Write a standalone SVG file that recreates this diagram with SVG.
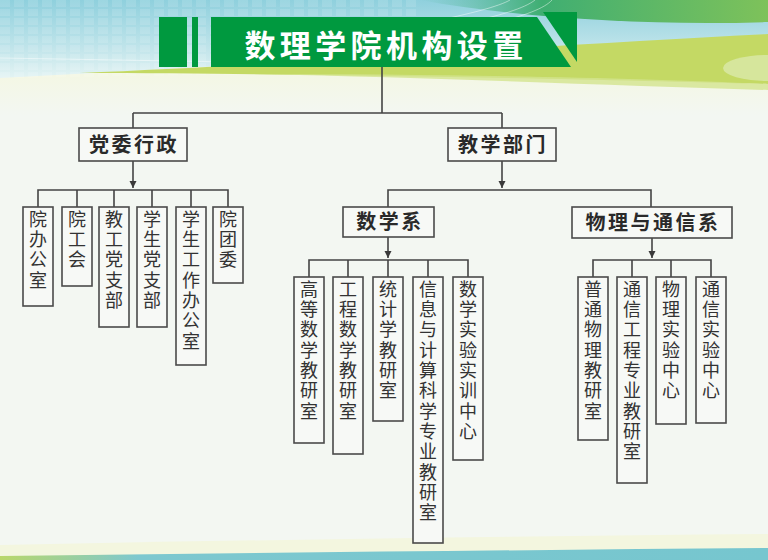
<svg xmlns="http://www.w3.org/2000/svg" width="768" height="560" viewBox="0 0 768 560">
<defs>
<linearGradient id="sky" x1="0" y1="0" x2="0" y2="1">
<stop offset="0" stop-color="#8fd0dd"/>
<stop offset="0.6" stop-color="#bfe4ea"/>
<stop offset="1" stop-color="#e3f3f3"/>
</linearGradient>
<linearGradient id="topgreen" x1="0" y1="0" x2="1" y2="0">
<stop offset="0" stop-color="#58b9a0" stop-opacity="0"/>
<stop offset="0.35" stop-color="#3fae72"/>
<stop offset="1" stop-color="#7ec25a"/>
</linearGradient>
<linearGradient id="cream" x1="0" y1="0" x2="0" y2="1">
<stop offset="0" stop-color="#f4f7df"/>
<stop offset="1" stop-color="#f3f7f2"/>
</linearGradient>
<linearGradient id="teal" x1="0" y1="0" x2="1" y2="0">
<stop offset="0" stop-color="#b9d76a"/>
<stop offset="0.18" stop-color="#7dc8cf"/>
<stop offset="1" stop-color="#76c6cf"/>
</linearGradient>
<pattern id="grid" width="14" height="9" patternUnits="userSpaceOnUse">
<rect x="0" y="0" width="10" height="7" fill="#ffffff" fill-opacity="0.12"/>
</pattern>
<marker id="arr" markerWidth="8" markerHeight="8" refX="4" refY="7" orient="0" markerUnits="userSpaceOnUse">
<path d="M0.5,0 L7.5,0 L4,7 Z" fill="#3a3a3a"/>
</marker>
<style>
.box{fill:#f7f9f6;stroke:#4a4a4a;stroke-width:1.6}
.hd{font-family:"Noto Sans CJK SC","Noto Sans",sans-serif;font-size:20px;font-weight:bold;fill:#2a2a2a;text-anchor:middle;letter-spacing:2.5px}
.vt{font-family:"Noto Sans CJK SC","Noto Sans",sans-serif;font-size:18px;fill:#333333;text-anchor:start;writing-mode:vertical-rl;text-orientation:upright;letter-spacing:2.3px}
.ln{fill:none;stroke:#444444;stroke-width:1.6}
.tg{fill:#00993f}
</style>
</defs>

<g id="background">
<rect x="0" y="0" width="768" height="560" fill="#f3f7f2"/>
<rect x="0" y="60" width="768" height="55" fill="url(#cream)"/>
<path d="M0,0 H768 V40 C560,46 300,62 0,78 Z" fill="url(#sky)"/>
<path d="M0,0 H420 V72 C280,74 140,76 0,78 Z" fill="url(#grid)"/>
<path d="M420,0 H768 V22 C650,26 520,18 420,0 Z" fill="url(#topgreen)"/>
<path d="M80,73 C300,64 560,44 768,34 L768,84 C600,80 380,74 80,73 Z" fill="#c4d964"/>
<path d="M250,74 C450,74 640,78 768,84 L768,90 C620,86 450,78 250,74 Z" fill="#d3e38f" fill-opacity="0.8"/>
<ellipse cx="768" cy="68" rx="45" ry="13" fill="#d6e69c"/>
<g fill="none" stroke="#ffffff" stroke-opacity="0.45" stroke-width="1">
<path d="M430,22 C470,14 500,6 510,0"/>
<path d="M460,24 C500,16 525,8 535,0"/>
<path d="M490,24 C525,16 545,8 552,0"/>
<path d="M0,58 C120,60 220,62 300,63"/>
</g>
<path d="M0,545 C250,540 520,536 768,534 L768,552 L0,556 Z" fill="#f3f6df"/>
<path d="M0,556 C260,553 520,550 768,548 V560 H0 Z" fill="url(#teal)"/>
</g>

<g id="title">
<rect class="tg" x="159" y="17" width="28" height="50"/>
<rect class="tg" x="192" y="17" width="6" height="50"/>
<polygon class="tg" points="211,17 537,17 571,67 211,67"/>
<polygon class="tg" points="543,12 577,12 577,62"/>
<text x="386" y="57" font-family="'Noto Sans CJK SC','Noto Sans',sans-serif" font-size="31" font-weight="bold" fill="#ffffff" text-anchor="middle" letter-spacing="4.4">数理学院机构设置</text>
</g>

<g id="connectors">
<path class="ln" d="M382,67 V113 M133,113 H502 M133,113 V128 M502,113 V128"/>
<path class="ln" d="M133,161 V188" marker-end="url(#arr)"/>
<path class="ln" d="M38,207 V190 H228 V207 M77,190 V207 M114,190 V207 M152,190 V207 M191,190 V207"/>
<path class="ln" d="M502,161 V188" marker-end="url(#arr)"/>
<path class="ln" d="M388,207 V190 H651 V207"/>
<path class="ln" d="M388,237 V258" marker-end="url(#arr)"/>
<path class="ln" d="M309,277 V260 H468 V277 M348,260 V277 M388,260 V277 M428,260 V277"/>
<path class="ln" d="M652,238 V258" marker-end="url(#arr)"/>
<path class="ln" d="M593,277 V260 H711 V277 M632,260 V277 M671,260 V277"/>
</g>

<g id="n-dangwei">
<rect class="box" x="79" y="128" width="108" height="33"/>
<text class="hd" x="134" y="152">党委行政</text>
</g>
<g id="n-jiaoxue">
<rect class="box" x="448" y="128" width="108" height="33"/>
<text class="hd" x="503" y="152">教学部门</text>
</g>
<g id="n-shuxue">
<rect class="box" x="343" y="207" width="91" height="30"/>
<text class="hd" x="390" y="229">数学系</text>
</g>
<g id="n-wuli">
<rect class="box" x="572" y="207" width="160" height="31"/>
<text class="hd" x="653" y="230">物理与通信系</text>
</g>

<g id="n-yuanban">
<rect class="box" x="23" y="207" width="30" height="99"/>
<text class="vt" x="38" y="210">院办公室</text>
</g>
<g id="n-yuangonghui">
<rect class="box" x="62" y="207" width="30" height="79"/>
<text class="vt" x="77" y="210">院工会</text>
</g>
<g id="n-jiaogong">
<rect class="box" x="99" y="207" width="30" height="120"/>
<text class="vt" x="114" y="210">教工党支部</text>
</g>
<g id="n-xuesheng">
<rect class="box" x="137" y="207" width="30" height="120"/>
<text class="vt" x="152" y="210">学生党支部</text>
</g>
<g id="n-xuegong">
<rect class="box" x="176" y="207" width="30" height="158"/>
<text class="vt" x="191" y="210">学生工作办公室</text>
</g>
<g id="n-tuanwei">
<rect class="box" x="213" y="207" width="30" height="76"/>
<text class="vt" x="228" y="210">院团委</text>
</g>

<g id="n-gaodeng">
<rect class="box" x="294" y="277" width="30" height="166"/>
<text class="vt" x="309" y="280">高等数学教研室</text>
</g>
<g id="n-gongcheng">
<rect class="box" x="333" y="277" width="30" height="177"/>
<text class="vt" x="348" y="280">工程数学教研室</text>
</g>
<g id="n-tongji">
<rect class="box" x="373" y="277" width="30" height="144"/>
<text class="vt" x="388" y="280">统计学教研室</text>
</g>
<g id="n-xinxi">
<rect class="box" x="413" y="277" width="30" height="266"/>
<text class="vt" x="428" y="280">信息与计算科学专业教研室</text>
</g>
<g id="n-shiyan">
<rect class="box" x="453" y="277" width="30" height="183"/>
<text class="vt" x="468" y="280">数学实验实训中心</text>
</g>

<g id="n-putong">
<rect class="box" x="578" y="277" width="30" height="163"/>
<text class="vt" x="593" y="280">普通物理教研室</text>
</g>
<g id="n-tongxin">
<rect class="box" x="617" y="277" width="30" height="206"/>
<text class="vt" x="632" y="280">通信工程专业教研室</text>
</g>
<g id="n-wulishiyan">
<rect class="box" x="656" y="277" width="30" height="147"/>
<text class="vt" x="671" y="280">物理实验中心</text>
</g>
<g id="n-tongxinshiyan">
<rect class="box" x="696" y="277" width="30" height="146"/>
<text class="vt" x="711" y="280">通信实验中心</text>
</g>
</svg>
